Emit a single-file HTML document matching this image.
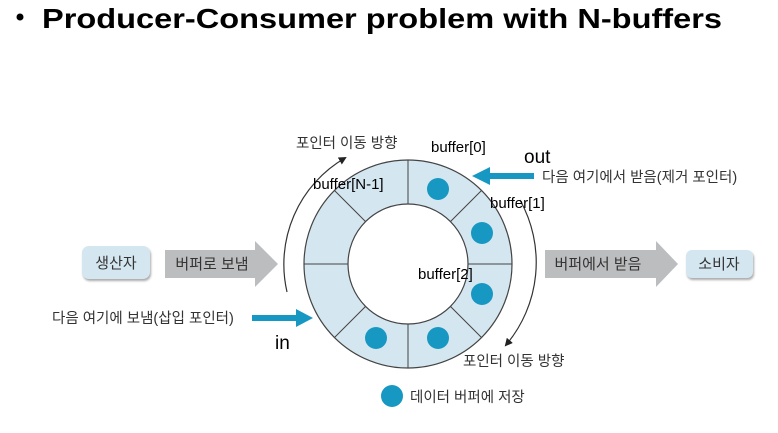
<!DOCTYPE html>
<html><head><meta charset="utf-8"><style>
body{margin:0;background:#fff;}
svg{display:block;}
.k{font-family:"Liberation Sans","Noto Sans CJK KR",sans-serif;fill:#333;}
.b{font-family:"Liberation Sans",sans-serif;fill:#000;}
</style></head><body>
<svg width="778" height="433" viewBox="0 0 778 433" xmlns="http://www.w3.org/2000/svg">
<defs><marker id="ah" markerWidth="8" markerHeight="8" refX="6" refY="4" orient="auto" markerUnits="userSpaceOnUse"><path d="M0,0 L8,4 L0,8 Z" fill="#222"/></marker></defs>
<circle cx="20" cy="17" r="3.5" fill="#000"/>
<text x="42" y="28" class="b" font-size="28" font-weight="bold" textLength="680" lengthAdjust="spacingAndGlyphs">Producer-Consumer problem with N-buffers</text>
<circle cx="408" cy="264" r="104" fill="#d4e6ef" stroke="#444" stroke-width="1.2"/>
<circle cx="408" cy="264" r="60" fill="#fff" stroke="#444" stroke-width="1.2"/>
<g stroke="#444" stroke-width="1">
<line x1="408" y1="160" x2="408" y2="204"/><line x1="408" y1="324" x2="408" y2="368"/>
<line x1="304" y1="264" x2="348" y2="264"/><line x1="468" y1="264" x2="512" y2="264"/>
<line x1="334.5" y1="190.5" x2="365.6" y2="221.6"/><line x1="481.5" y1="190.5" x2="450.4" y2="221.6"/>
<line x1="334.5" y1="337.5" x2="365.6" y2="306.4"/><line x1="481.5" y1="337.5" x2="450.4" y2="306.4"/>
</g>
<g fill="#1798c2">
<circle cx="438" cy="189" r="11"/><circle cx="482" cy="233" r="11"/><circle cx="482" cy="294" r="11"/>
<circle cx="438" cy="338" r="11"/><circle cx="376" cy="338" r="11"/><circle cx="392" cy="396" r="11"/>
</g>
<path d="M287,292 A123,123 0 0 1 345,158" fill="none" stroke="#333" stroke-width="1.2" marker-end="url(#ah)"/>
<path d="M520,200 A128,128 0 0 1 506,345" fill="none" stroke="#333" stroke-width="1.2" marker-end="url(#ah)"/>
<rect x="486" y="173" width="48" height="6" fill="#1798c2"/><path d="M472,176 L490,167 L490,185 Z" fill="#1798c2"/>
<rect x="252" y="315" width="46" height="6" fill="#1798c2"/><path d="M313,318 L296,309 L296,327 Z" fill="#1798c2"/>
<rect x="82" y="246" width="68" height="33" rx="7" fill="#d4e6ef" filter="drop-shadow(1px 2px 1px #aaa)"/>
<text x="116" y="268" class="k" font-size="15" text-anchor="middle">생산자</text>
<path d="M165,250 L255,250 L255,241 L278,264 L255,287 L255,278 L165,278 Z" fill="#bcbdbf"/>
<text x="212" y="269" class="k" font-size="15" text-anchor="middle">버퍼로 보냄</text>
<path d="M545,250 L656,250 L656,241 L678,264 L656,287 L656,278 L545,278 Z" fill="#bcbdbf"/>
<text x="598" y="269" class="k" font-size="15" text-anchor="middle">버퍼에서 받음</text>
<rect x="686" y="250" width="67" height="28" rx="6" fill="#d4e6ef" filter="drop-shadow(1px 2px 1px #aaa)"/>
<text x="719" y="269" class="k" font-size="15" text-anchor="middle">소비자</text>
<text x="296" y="148" class="k" font-size="14.5">포인터 이동 방향</text>
<text x="463" y="366" class="k" font-size="14.5">포인터 이동 방향</text>
<text x="542" y="182" class="k" font-size="14.5">다음 여기에서 받음(제거 포인터)</text>
<text x="52" y="323" class="k" font-size="14.5">다음 여기에 보냄(삽입 포인터)</text>
<text x="410" y="402" class="k" font-size="14.5">데이터 버퍼에 저장</text>
<text x="431" y="152" class="b" font-size="15">buffer[0]</text>
<text x="313" y="189" class="b" font-size="15">buffer[N-1]</text>
<text x="490" y="208" class="b" font-size="15">buffer[1]</text>
<text x="418" y="279" class="b" font-size="15">buffer[2]</text>
<text x="524" y="163" class="b" font-size="19">out</text>
<text x="275" y="349" class="b" font-size="19">in</text>
</svg>
</body></html>
